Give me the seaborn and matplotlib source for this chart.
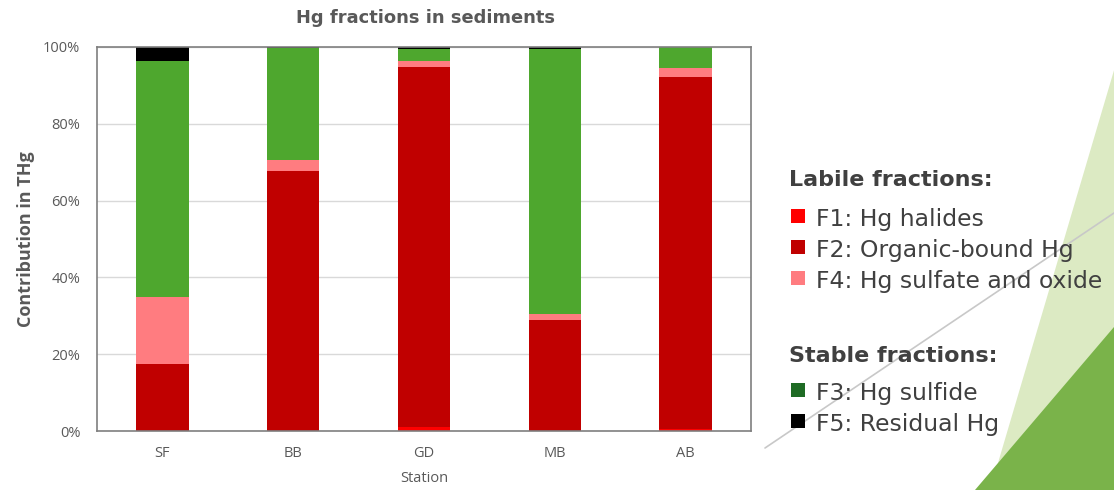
import matplotlib
matplotlib.use("Agg")
import numpy as np
import pandas as pd
import matplotlib.pyplot as plt
import seaborn as sns
from matplotlib.patches import Polygon, Rectangle
from matplotlib.lines import Line2D
from matplotlib.ticker import FuncFormatter

# Mercury fractions (% of total Hg) per sampling station
stations = ["SF", "BB", "GD", "MB", "AB"]
f1_halides = [0.0, 0.0, 1.1, 0.0, 0.4]
f2_organic = [17.4, 67.8, 93.6, 28.9, 91.8]
f4_sulfate_oxide = [17.5, 2.8, 1.7, 1.5, 2.3]
f3_sulfide = [61.5, 29.1, 3.1, 69.1, 5.5]
f5_residual = [3.6, 0.3, 0.5, 0.5, 0.0]

labile_labels = ["F1: Hg halides", "F2: Organic-bound Hg", "F4: Hg sulfate and oxide"]
stable_labels = ["F3: Hg sulfide", "F5: Residual Hg"]

C_F1, C_F2, C_F4, C_F3, C_F5 = "#FF0000", "#C00000", "#FF7C80", "#4EA72E", "#000000"
C_F3_KEY = "#1E6B24"
GREY_TXT = "#595959"
DARK_TXT = "#404040"

sns.set_theme(style="white")
plt.rcParams["font.family"] = ["DejaVu Sans"]

W, H = 1114, 490
fig = plt.figure(figsize=(W / 100, H / 100), dpi=100)
fig.patch.set_facecolor("white")


def P(x, y):
    """Pixel position (from top-left) to figure fraction."""
    return (x / W, 1 - y / H)


# background accents
fig.add_artist(Polygon([P(990, 490), P(1120, 50), P(1124, 490)], closed=True,
                       transform=fig.transFigure, facecolor="#DCEAC3", edgecolor="none", zorder=0))
fig.add_artist(Polygon([P(975, 490), P(1114, 327), P(1114, 490)], closed=True,
                       transform=fig.transFigure, facecolor="#7AB34A", edgecolor="none", zorder=0.5))
fig.add_artist(Line2D([765 / W, 1114 / W], [1 - 448 / H, 1 - 213 / H], transform=fig.transFigure,
                      color="#C8C8C8", lw=1.2, zorder=0.6))

ax = fig.add_axes([97 / W, 1 - 431 / H, (751 - 97) / W, (431 - 47) / H])

df = pd.DataFrame({
    "station": stations,
    "F1": f1_halides,
    "F2": f2_organic,
    "F4": f4_sulfate_oxide,
    "F3": f3_sulfide,
    "F5": f5_residual,
})
stack_order = ["F1", "F2", "F4", "F3", "F5"]
colors = {"F1": C_F1, "F2": C_F2, "F4": C_F4, "F3": C_F3, "F5": C_F5}
cum = df[stack_order].cumsum(axis=1)

# draw cumulative totals from the top layer down so each layer shows its own segment
for key in reversed(stack_order):
    sns.barplot(x=df["station"], y=cum[key], color=colors[key], saturation=1,
                width=0.4, errorbar=None, ax=ax, zorder=2, linewidth=0)

ax.set_ylim(0, 100)
ax.set_xlim(-0.5, len(stations) - 0.5)
ax.set_yticks(np.arange(0, 101, 20))
ax.yaxis.set_major_formatter(FuncFormatter(lambda v, _: f"{v:.0f}%"))
ax.yaxis.grid(True, color="#D9D9D9", lw=1)
ax.set_axisbelow(True)
for sp in ax.spines.values():
    sp.set_visible(True)
    sp.set_color("#7F7F7F")
    sp.set_linewidth(1.2)

tick_font = dict(family=["Open Sans", "DejaVu Sans"], size=10.5, color=GREY_TXT)
ax.tick_params(axis="both", length=0, colors=GREY_TXT)
ax.tick_params(axis="y", pad=12)
ax.tick_params(axis="x", pad=11)
for lab in ax.get_xticklabels() + ax.get_yticklabels():
    lab.set_fontfamily(["Open Sans", "DejaVu Sans"])
    lab.set_fontsize(10.5)
    lab.set_color(GREY_TXT)

ax.set_xlabel("Station", fontdict=tick_font, labelpad=7)
ax.set_ylabel("Contribution in THg", family=["Open Sans", "DejaVu Sans"], size=13,
              weight="bold", color=GREY_TXT, labelpad=6)

fig.text(*P(426, 18), "Hg fractions in sediments", ha="center", va="center",
         fontsize=12.9, fontweight="bold", color=GREY_TXT)

# fraction key
def header(y_base, text):
    fig.text(*P(789, y_base), text, ha="left", va="baseline", fontsize=16,
             fontweight="bold", color=DARK_TXT, zorder=3)


def entry(y_base, text, color):
    fig.add_artist(Rectangle(P(791, y_base - 3), 14 / W, 14 / H, transform=fig.transFigure,
                             facecolor=color, edgecolor="none", zorder=3))
    fig.text(*P(816, y_base), text, ha="left", va="baseline", fontsize=16.9,
             color=DARK_TXT, zorder=3)


header(186, "Labile fractions:")
for yb, txt, col in zip([226, 257, 288], labile_labels, [C_F1, C_F2, C_F4]):
    entry(yb, txt, col)
header(362, "Stable fractions:")
for yb, txt, col in zip([400, 431], stable_labels, [C_F3_KEY, C_F5]):
    entry(yb, txt, col)

fig.savefig("out.png", dpi=100)
